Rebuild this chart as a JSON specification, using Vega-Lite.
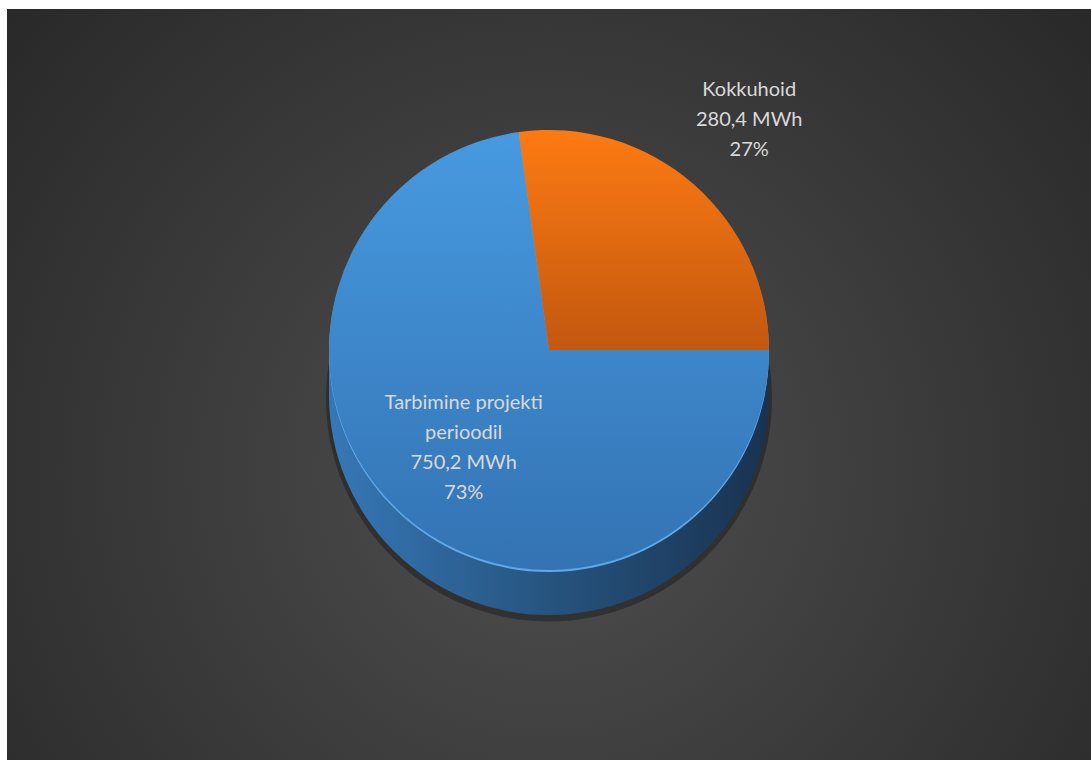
{
  "$schema": "https://vega.github.io/schema/vega-lite/v6.json",
  "width": 1084,
  "height": 751,
  "padding": {"left": 7, "top": 9, "right": 0, "bottom": 0},
  "background": "#ffffff",
  "config": {"view": {"stroke": null}},
  "data": {
    "values": [
      {"name": "Tarbimine projekti\nperioodil", "mwh": 750.2},
      {"name": "Kokkuhoid", "mwh": 280.4}
    ]
  },
  "transform": [
    {"joinaggregate": [{"op": "sum", "field": "mwh", "as": "total"}]},
    {"calculate": "datum.name + '\\n' + replace(format(datum.mwh, '.1f'), '.', ',') + ' MWh\\n' + format(datum.mwh / datum.total, '.0%')", "as": "label"}
  ],
  "layer": [
    {
      "transform": [{"aggregate": [{"op": "sum", "field": "mwh", "as": "whole"}]}],
      "mark": {
        "type": "rect",
        "fill": {
          "gradient": "radial",
          "x1": 0.5, "y1": 0.58, "r1": 0,
          "x2": 0.5, "y2": 0.58, "r2": 0.72,
          "stops": [
            {"offset": 0, "color": "#4f4f4f"},
            {"offset": 1, "color": "#252525"}
          ]
        }
      },
      "encoding": {}
    },
    {
      "transform": [{"aggregate": [{"op": "sum", "field": "mwh", "as": "whole"}]}],
      "mark": {"type": "arc", "radius": 223, "yOffset": 14, "fill": "#000000", "opacity": 0.3},
      "encoding": {"theta": {"field": "whole", "type": "quantitative", "scale": {"range": [1.5708, 7.854]}}}
    },
    {
      "transform": [{"aggregate": [{"op": "sum", "field": "mwh", "as": "whole"}]}],
      "mark": {"type": "arc", "radius": 220, "yOffset": -30, "fill": {"gradient": "linear", "x1": 0, "y1": 0.5, "x2": 1, "y2": 0.5, "stops": [{"offset": 0, "color": "#3678b7"}, {"offset": 0.5, "color": "#26547f"}, {"offset": 1, "color": "#19324f"}]}},
      "encoding": {"theta": {"field": "whole", "type": "quantitative", "scale": {"range": [1.5708, 7.854]}}}
    },
    {
      "transform": [{"aggregate": [{"op": "sum", "field": "mwh", "as": "whole"}]}],
      "mark": {"type": "arc", "radius": 220, "yOffset": -20, "fill": {"gradient": "linear", "x1": 0, "y1": 0.5, "x2": 1, "y2": 0.5, "stops": [{"offset": 0, "color": "#3678b7"}, {"offset": 0.5, "color": "#26547f"}, {"offset": 1, "color": "#19324f"}]}},
      "encoding": {"theta": {"field": "whole", "type": "quantitative", "scale": {"range": [1.5708, 7.854]}}}
    },
    {
      "transform": [{"aggregate": [{"op": "sum", "field": "mwh", "as": "whole"}]}],
      "mark": {"type": "arc", "radius": 220, "yOffset": -10, "fill": {"gradient": "linear", "x1": 0, "y1": 0.5, "x2": 1, "y2": 0.5, "stops": [{"offset": 0, "color": "#3678b7"}, {"offset": 0.5, "color": "#26547f"}, {"offset": 1, "color": "#19324f"}]}},
      "encoding": {"theta": {"field": "whole", "type": "quantitative", "scale": {"range": [1.5708, 7.854]}}}
    },
    {
      "transform": [{"aggregate": [{"op": "sum", "field": "mwh", "as": "whole"}]}],
      "mark": {"type": "arc", "radius": 220, "yOffset": 0, "fill": {"gradient": "linear", "x1": 0, "y1": 0.5, "x2": 1, "y2": 0.5, "stops": [{"offset": 0, "color": "#3678b7"}, {"offset": 0.5, "color": "#26547f"}, {"offset": 1, "color": "#19324f"}]}},
      "encoding": {"theta": {"field": "whole", "type": "quantitative", "scale": {"range": [1.5708, 7.854]}}}
    },
    {
      "transform": [{"aggregate": [{"op": "sum", "field": "mwh", "as": "whole"}]}],
      "mark": {"type": "arc", "radius": 220, "yOffset": 10.5, "fill": {"gradient": "linear", "x1": 0, "y1": 0.5, "x2": 1, "y2": 0.5, "stops": [{"offset": 0, "color": "#3678b7"}, {"offset": 0.5, "color": "#26547f"}, {"offset": 1, "color": "#19324f"}]}},
      "encoding": {"theta": {"field": "whole", "type": "quantitative", "scale": {"range": [1.5708, 7.854]}}}
    },
    {
      "transform": [{"aggregate": [{"op": "sum", "field": "mwh", "as": "whole"}]}],
      "mark": {"type": "arc", "radius": 220, "yOffset": -32.5, "fill": "#5ea9e9"},
      "encoding": {"theta": {"field": "whole", "type": "quantitative", "scale": {"range": [1.5708, 7.854]}}}
    },
    {
      "mark": {"type": "arc", "radius": 220, "yOffset": -34.5, "stroke": null},
      "encoding": {
        "theta": {"field": "mwh", "type": "quantitative", "stack": true, "scale": {"range": [1.5708, 7.854]}},
        "order": {"field": "mwh", "type": "quantitative", "sort": "descending"},
        "detail": {"field": "name", "type": "nominal"},
        "fill": {
          "condition": {
            "test": "datum.name === 'Kokkuhoid'",
            "value": {"gradient": "linear", "x1": 0.5, "y1": 0, "x2": 0.5, "y2": 1, "stops": [{"offset": 0, "color": "#fd7a12"}, {"offset": 1, "color": "#c3580f"}]}
          },
          "value": {"gradient": "linear", "x1": 0.5, "y1": 0, "x2": 0.5, "y2": 1, "stops": [{"offset": 0, "color": "#479ae0"}, {"offset": 1, "color": "#3373b3"}]}
        }
      }
    },
    {
      "mark": {"type": "text", "radius": 130, "dy": -79.5, "font": "Lato", "fontSize": 20, "lineHeight": 30, "lineBreak": "\n", "fill": "#d9d9d9", "align": "center", "baseline": "middle"},
      "encoding": {
        "theta": {"field": "mwh", "type": "quantitative", "stack": true, "scale": {"range": [1.5708, 7.854]}},
        "order": {"field": "mwh", "type": "quantitative", "sort": "descending"},
        "detail": {"field": "name", "type": "nominal"},
        "text": {"condition": {"test": "datum.name !== 'Kokkuhoid'", "field": "label", "type": "nominal"}, "value": ""}
      }
    },
    {
      "mark": {"type": "text", "radius": 305, "dy": -64.5, "font": "Lato", "fontSize": 20, "lineHeight": 30, "lineBreak": "\n", "fill": "#d9d9d9", "align": "center", "baseline": "middle"},
      "encoding": {
        "theta": {"field": "mwh", "type": "quantitative", "stack": true, "scale": {"range": [1.5708, 7.854]}},
        "order": {"field": "mwh", "type": "quantitative", "sort": "descending"},
        "detail": {"field": "name", "type": "nominal"},
        "text": {"condition": {"test": "datum.name === 'Kokkuhoid'", "field": "label", "type": "nominal"}, "value": ""}
      }
    }
  ]
}
